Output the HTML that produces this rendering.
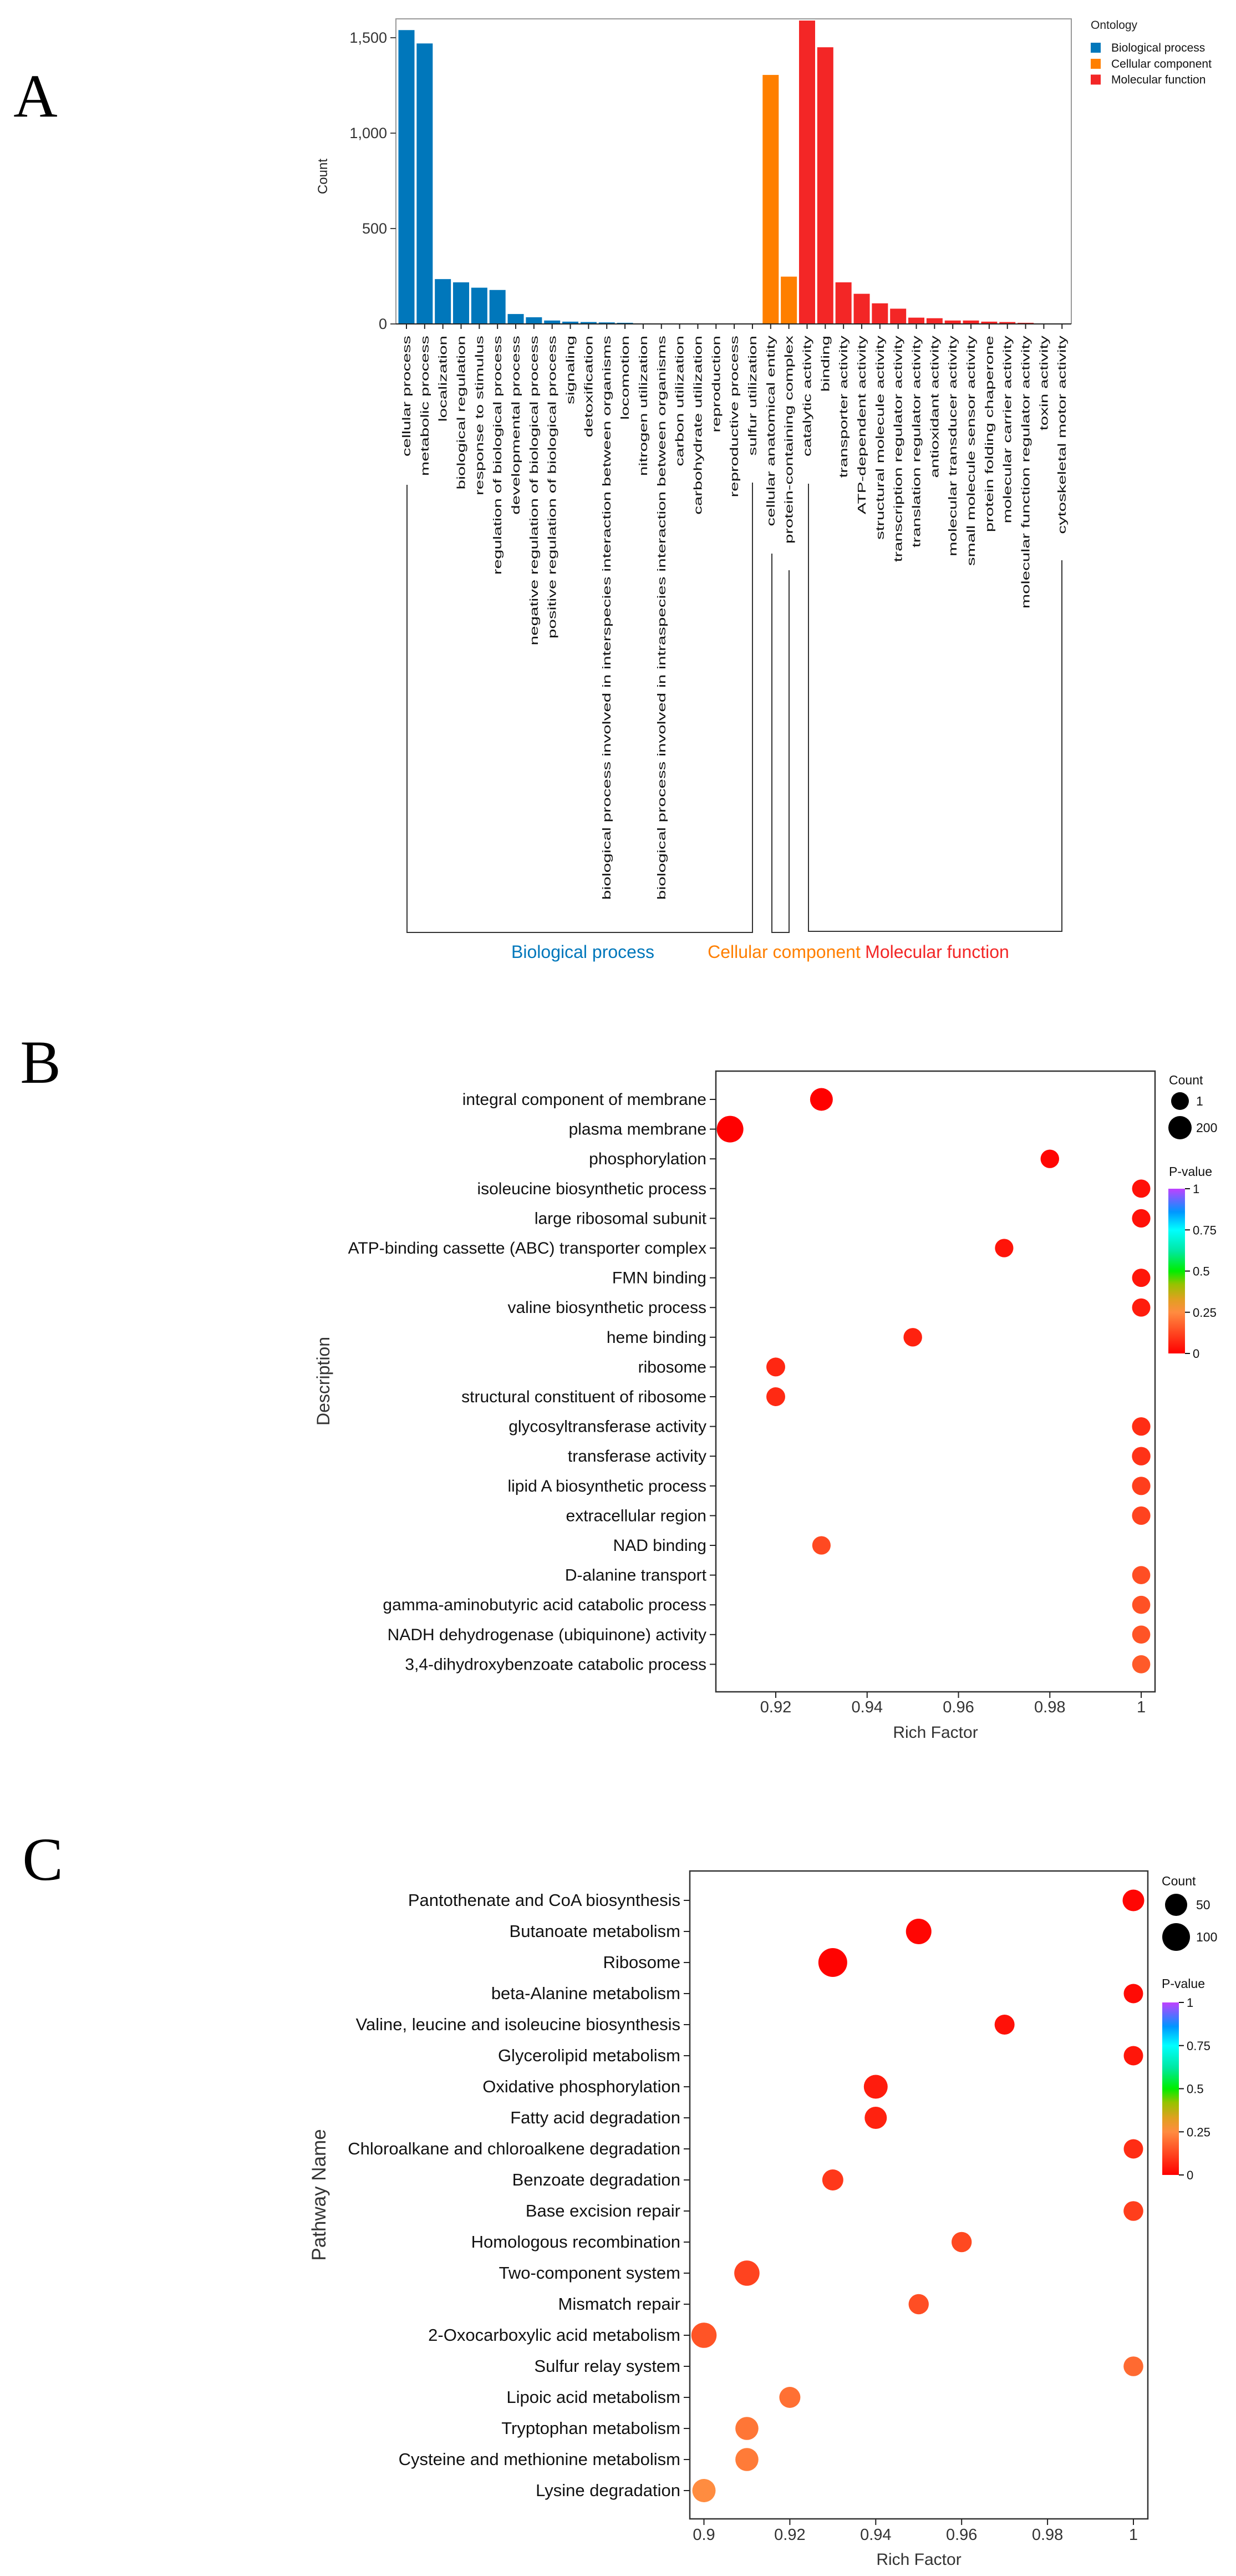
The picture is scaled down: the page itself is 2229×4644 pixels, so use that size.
<!DOCTYPE html>
<html><head><meta charset="utf-8"><style>
html,body{margin:0;padding:0;background:#fff;}
svg{display:block;font-family:"Liberation Sans",Arial,sans-serif;}
</style></head><body>
<svg id="fig" width="2229" height="4644" viewBox="0 0 2229 4644" xmlns="http://www.w3.org/2000/svg">
<rect x="0" y="0" width="2229" height="4644" fill="#fff"/>
</svg>
<script>
// ---------- Panel A data ----------
const goTerms = ["cellular process","metabolic process","localization","biological regulation","response to stimulus","regulation of biological process","developmental process","negative regulation of biological process","positive regulation of biological process","signaling","detoxification","biological process involved in interspecies interaction between organisms","locomotion","nitrogen utilization","biological process involved in intraspecies interaction between organisms","carbon utilization","carbohydrate utilization","reproduction","reproductive process","sulfur utilization","cellular anatomical entity","protein-containing complex","catalytic activity","binding","transporter activity","ATP-dependent activity","structural molecule activity","transcription regulator activity","translation regulator activity","antioxidant activity","molecular transducer activity","small molecule sensor activity","protein folding chaperone","molecular carrier activity","molecular function regulator activity","toxin activity","cytoskeletal motor activity"];
const goCounts = [1540,1470,235,218,190,178,52,35,18,12,10,8,6,3,2,2,2,2,1,1,1305,248,1590,1450,218,158,108,80,33,30,18,18,12,10,6,2,1];
const goOntology = ["BP","BP","BP","BP","BP","BP","BP","BP","BP","BP","BP","BP","BP","BP","BP","BP","BP","BP","BP","BP","CC","CC","MF","MF","MF","MF","MF","MF","MF","MF","MF","MF","MF","MF","MF","MF","MF"];
const goYTicks = [0,500,1000,1500];
const goYTickLabels = ["0","500","1,000","1,500"];

// ---------- Panel B data ----------
const bTerms = ["integral component of membrane","plasma membrane","phosphorylation","isoleucine biosynthetic process","large ribosomal subunit","ATP-binding cassette (ABC) transporter complex","FMN binding","valine biosynthetic process","heme binding","ribosome","structural constituent of ribosome","glycosyltransferase activity","transferase activity","lipid A biosynthetic process","extracellular region","NAD binding","D-alanine transport","gamma-aminobutyric acid catabolic process","NADH dehydrogenase (ubiquinone) activity","3,4-dihydroxybenzoate catabolic process"];
const bRich = [0.93,0.91,0.98,1,1,0.97,1,1,0.95,0.92,0.92,1,1,1,1,0.93,1,1,1,1];
const bCount = [180,320,30,20,25,25,20,20,30,40,40,25,30,25,25,25,15,15,15,15];
const bPval = [0.001,0.002,0.01,0.03,0.03,0.035,0.04,0.05,0.06,0.07,0.075,0.08,0.09,0.11,0.12,0.13,0.14,0.145,0.15,0.16];
const bXTicks = [0.92,0.94,0.96,0.98,1];
const bXTickLabels = ["0.92","0.94","0.96","0.98","1"];

// ---------- Panel C data ----------
const cTerms = ["Pantothenate and CoA biosynthesis","Butanoate metabolism","Ribosome","beta-Alanine metabolism","Valine, leucine and isoleucine biosynthesis","Glycerolipid metabolism","Oxidative phosphorylation","Fatty acid degradation","Chloroalkane and chloroalkene degradation","Benzoate degradation","Base excision repair","Homologous recombination","Two-component system","Mismatch repair","2-Oxocarboxylic acid metabolism","Sulfur relay system","Lipoic acid metabolism","Tryptophan metabolism","Cysteine and methionine metabolism","Lysine degradation"];
const cRich = [1,0.95,0.93,1,0.97,1,0.94,0.94,1,0.93,1,0.96,0.91,0.95,0.9,1,0.92,0.91,0.91,0.9];
const cCount = [45,80,110,25,30,25,65,50,25,40,28,32,78,32,78,28,40,58,58,60];
const cPval = [0.01,0.01,0.005,0.02,0.03,0.04,0.05,0.06,0.08,0.1,0.11,0.13,0.12,0.14,0.15,0.19,0.2,0.21,0.22,0.25];
const cXTicks = [0.9,0.92,0.94,0.96,0.98,1];
const cXTickLabels = ["0.9","0.92","0.94","0.96","0.98","1"];

const NS = "http://www.w3.org/2000/svg";
const svg = document.getElementById('fig');
function mk(tag, attrs, parent, text){
  const e = document.createElementNS(NS, tag);
  for (const k in attrs) e.setAttribute(k, attrs[k]);
  if (text !== undefined) e.textContent = text;
  (parent||svg).appendChild(e);
  return e;
}
const stops = [[0,[255,0,0]],[0.25,[255,140,64]],[0.33,[224,160,32]],[0.42,[150,195,0]],[0.5,[0,238,0]],[0.62,[0,232,160]],[0.75,[0,255,255]],[0.86,[0,150,255]],[1,[192,64,255]]];
function pcol(p){
  for (let i=1;i<stops.length;i++){
    if (p<=stops[i][0]){
      const a=stops[i-1], b=stops[i], t=(p-a[0])/(b[0]-a[0]);
      const c=a[1].map((v,j)=>Math.round(v+(b[1][j]-v)*t));
      return 'rgb('+c.join(',')+')';
    }
  }
  return 'rgb(192,64,255)';
}
const ontColor = {BP:"#0077bb", CC:"#ff7f00", MF:"#f32626"};

// ================= Panel A =================
const gA = mk('g', {});


let t = mk('text',{x:64,y:210,'font-family':'"Liberation Serif",serif','font-size':110,'text-anchor':'middle'},gA,'A');
 

const aLeft=714, aRight=1932, aTop=34, aBase=584, aX0=733, aStep=32.84;
const aY = v => aBase - v*(516/1500);
const aX = i => aX0 + aStep*i;
let box = mk('path',{d:`M${aLeft},${aBase} V${aTop} H${aRight} V${aBase}`,fill:'none',stroke:'#999','stroke-width':2},gA);
 
goCounts.forEach((v,i)=>{
  const r = mk('rect',{x:aX(i)-14.5,y:aY(v),width:29,height:aBase-aY(v),fill:ontColor[goOntology[i]]},gA);
  
  
  mk('line',{x1:aX(i),x2:aX(i),y1:aBase,y2:aBase+9,stroke:'#222','stroke-width':2},gA);
  const lb = mk('text',{transform:`translate(${aX(i)+7},${aBase+21}) rotate(-90) scale(1.57,1)`,'font-size':20,'text-anchor':'end',fill:'#111'},gA,goTerms[i]);
   
});
let ax = mk('line',{x1:aLeft-10,x2:aRight,y1:aBase,y2:aBase,stroke:'#222','stroke-width':2},gA);
 
goYTicks.forEach((v,i)=>{
  mk('line',{x1:aLeft-10,x2:aLeft,y1:aY(v),y2:aY(v),stroke:'#444','stroke-width':2},gA);
  const tl = mk('text',{x:aLeft-16,y:aY(v)+9,'font-size':27,'text-anchor':'end',fill:'#333'},gA,goYTickLabels[i]);
   
});
t = mk('text',{transform:'translate(590,318) rotate(-90)','font-size':24,'text-anchor':'middle',fill:'#222'},gA,'Count');
 
// legend
const lgA = mk('g',{},gA);
 
mk('text',{x:1967,y:52,'font-size':21,fill:'#222'},lgA,'Ontology');
[["Biological process","BP",86],["Cellular component","CC",115],["Molecular function","MF",143.5]].forEach(e=>{
  const it = mk('g',{},lgA);
   
  mk('rect',{x:1967,y:e[2]-9,width:18,height:18,fill:ontColor[e[1]]},it);
  mk('text',{x:2004,y:e[2]+7,'font-size':21,fill:'#111'},it,e[0]);
});
// brackets
const bracket = (x1,y1,x2,y2,yb,name)=>{
  const p = mk('path',{d:`M${x1},${y1} V${yb} H${x2} V${y2}`,fill:'none',stroke:'#333','stroke-width':2},gA);
   
};
bracket(734,874,1357,870,1681,'bracket-biological-process');
bracket(1392,998,1423,1028,1681,'bracket-cellular-component');
bracket(1458,872,1915,1010,1679,'bracket-molecular-function');
[["Biological process",1051,"#0077bb"],["Cellular component",1414,"#ff7f00"],["Molecular function",1690,"#f32626"]].forEach(e=>{
  const g = mk('text',{x:e[1],y:1727,'font-size':32,'text-anchor':'middle',fill:e[2]},gA,e[0]);
   
});

// ================= Bubble panels =================
function bubble(cfg){
  const g = mk('g',{});
  
  
  const L = mk('text',{x:cfg.lx,y:cfg.ly,'font-family':'"Liberation Serif",serif','font-size':110,'text-anchor':'middle'},g,cfg.letter);
   
  const xs = v => cfg.x0 + (v - cfg.v0)*cfg.k;
  const ys = i => cfg.row0 + i*cfg.rowStep;
  const fr = mk('rect',{x:cfg.left,y:cfg.top,width:cfg.right-cfg.left,height:cfg.bottom-cfg.top,fill:'none',stroke:'#333','stroke-width':2.5},g);
   
  cfg.terms.forEach((term,i)=>{
    mk('line',{x1:cfg.left-11,x2:cfg.left,y1:ys(i),y2:ys(i),stroke:'#222','stroke-width':2},g);
    const tl = mk('text',{x:cfg.left-17,y:ys(i)+10,'font-size':cfg.fs,'text-anchor':'end',fill:'#111'},g,term);
     
  });
  cfg.terms.forEach((term,i)=>{
    const c = mk('circle',{cx:xs(cfg.rich[i]),cy:ys(i),r:cfg.rad(cfg.count[i]),fill:pcol(cfg.pval[i])},g);
    
    
  });
  cfg.xticks.forEach((v,i)=>{
    mk('line',{x1:xs(v),x2:xs(v),y1:cfg.bottom,y2:cfg.bottom+11,stroke:'#222','stroke-width':2},g);
    const tl = mk('text',{x:xs(v),y:cfg.tickY+10,'font-size':29,'text-anchor':'middle',fill:'#333'},g,cfg.xlabels[i]);
     
  });
  const xt = mk('text',{x:(cfg.left+cfg.right)/2,y:cfg.xtY+10,'font-size':30,'text-anchor':'middle',fill:'#333'},g,'Rich Factor');
   
  const yt = mk('text',{transform:`translate(${cfg.ytX+11},${cfg.ytY}) rotate(-90)`,'font-size':cfg.ytFs,'text-anchor':'middle',fill:'#333'},g,cfg.ytitle);
   
  // size legend
  const sl = mk('g',{},g);
   
  mk('text',{x:cfg.legX,y:cfg.countY+8,'font-size':23,fill:'#111'},sl,'Count');
  cfg.legSizes.forEach((s,i)=>{
    mk('circle',{cx:cfg.legCx,cy:cfg.legCy[i],r:cfg.rad(s),fill:'#000'},sl);
    mk('text',{x:cfg.legTx,y:cfg.legCy[i]+8,'font-size':23,fill:'#111'},sl,String(s));
  });
  // color bar
  const cl = mk('g',{},g);
   
  mk('text',{x:cfg.legX,y:cfg.pY+8,'font-size':23,fill:'#111'},cl,'P-value');
  const gid = 'grad'+cfg.letter;
  const defs = mk('defs',{},cl);
  const lg = mk('linearGradient',{id:gid,x1:0,y1:1,x2:0,y2:0},defs);
  stops.forEach(s=>mk('stop',{offset:s[0],'stop-color':'rgb('+s[1].join(',')+')'},lg));
  mk('rect',{x:cfg.cbX,y:cfg.cbTop,width:cfg.cbW,height:cfg.cbBot-cfg.cbTop,fill:`url(#${gid})`},cl);
  [0,0.25,0.5,0.75,1].forEach(v=>{
    const y = cfg.cbBot - v*(cfg.cbBot-cfg.cbTop);
    mk('line',{x1:cfg.cbX+cfg.cbW,x2:cfg.cbX+cfg.cbW+9,y1:y,y2:y,stroke:'#111','stroke-width':2},cl);
    mk('text',{x:cfg.cbX+cfg.cbW+14,y:y+8,'font-size':22,fill:'#111'},cl,String(v));
  });
}

bubble({name:'panel-b',letter:'B',lx:73,ly:1952,left:1291,right:2083,top:1931,bottom:3050,
  x0:1399,v0:0.92,k:8238,row0:1982,rowStep:53.6,terms:bTerms,rich:bRich,count:bCount,pval:bPval,
  rad:c=>16+(c-1)*5/199,fs:30,xticks:bXTicks,xlabels:bXTickLabels,tickY:3077,xtY:3123,
  ytitle:'Description',ytX:583,ytY:2490,ytFs:32,
  legX:2108,countY:1947,legCx:2128,legCy:[1985,2033],legSizes:[1,200],legTx:2157,
  pY:2112,cbX:2107,cbW:30,cbTop:2143,cbBot:2440});

bubble({name:'panel-c',letter:'C',lx:77,ly:3389,left:1244,right:2070,top:3373,bottom:4541,
  x0:1269.5,v0:0.9,k:7745,row0:3426,rowStep:56,terms:cTerms,rich:cRich,count:cCount,pval:cPval,
  rad:c=>15+0.1*c,fs:31,xticks:cXTicks,xlabels:cXTickLabels,tickY:4569,xtY:4614,
  ytitle:'Pathway Name',ytX:576,ytY:3957,ytFs:35,
  legX:2095,countY:3391,legCx:2121,legCy:[3434,3492],legSizes:[50,100],legTx:2157,
  pY:3576,cbX:2096,cbW:30,cbTop:3610,cbBot:3921});
</script>
</body></html>
